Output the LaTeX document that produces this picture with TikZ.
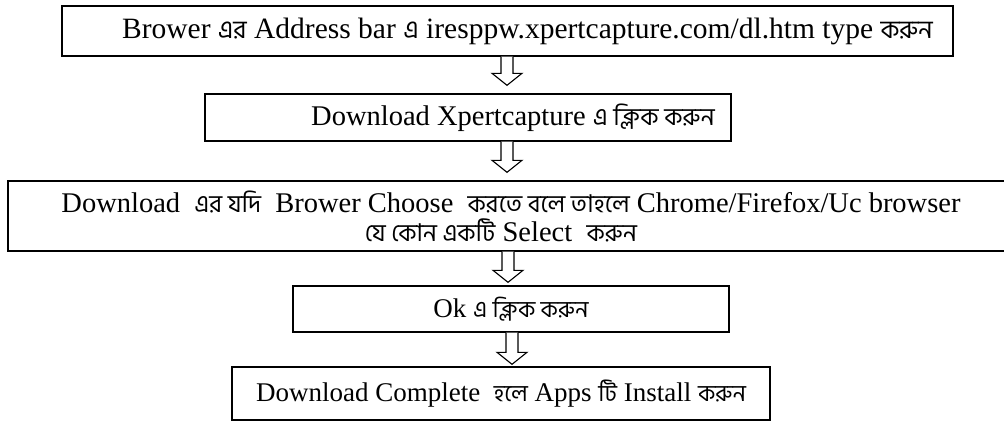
\documentclass[tikz,border=0pt]{standalone}
\usepackage{fontspec}
\setmainfont{Liberation Serif}
\newfontfamily\bnfont[Script=Bengali,Scale=0.86]{Hind Siliguri}
\newcommand{\bng}[1]{{\bnfont #1}}
\usetikzlibrary{calc}
\tikzset{
  stepbox/.style={draw=black, line width=1.4pt, rectangle, inner sep=0pt, align=center,
    font=\fontsize{27}{26}\selectfont},
  bigtext/.style={font=\fontsize{29.5}{27}\selectfont},
  midtext/.style={font=\fontsize{28.5}{29}\selectfont},
  blockarr/.style={draw=black, line width=1.1pt, line join=miter, fill=white},
}
% #1 from node, #2 to node, #3 x position, #4 gap above target
\newcommand{\flowarrow}[4]{%
  \coordinate (ax) at (#3,0);
  \draw[blockarr] let \p1=(#1.south -| ax), \p2=(#2.north -| ax) in
    (\x1-6pt,\y1) -- (\x1-6pt,\y2+#4+12pt) -- (\x1-15pt,\y2+#4+12pt) -- (\x1,\y2+#4)
    -- (\x1+15pt,\y2+#4+12pt) -- (\x1+6pt,\y2+#4+12pt) -- (\x1+6pt,\y1);
}
\begin{document}
\begin{tikzpicture}[x=1pt,y=-1pt]
\useasboundingbox (0,0) rectangle (1004,423);
\node[stepbox, bigtext, minimum width=891pt, minimum height=50pt] (b1) at (507.5,31)
  {\hspace*{40pt}Brower \bng{এর} Address bar \bng{এ} iresppw.xpertcapture.com/dl.htm type \bng{করুন}};
\node[stepbox, midtext, minimum width=526pt, minimum height=47pt] (b2) at (468,117.5)
  {\hspace*{90pt}Download Xpertcapture \bng{এ ক্লিক করুন}};
\node[stepbox, midtext, minimum width=1006pt, minimum height=70pt] (b3) at (511,216)
  {Download \ \bng{এর যদি} \ Brower Choose \ \bng{করতে বলে তাহলে} Chrome/Firefox/Uc browser\\
   \bng{যে কোন একটি} Select \ \bng{করুন}\hspace*{20pt}};
\node[stepbox, minimum width=436pt, minimum height=46pt] (b4) at (511,309)
  {Ok \bng{এ ক্লিক করুন}};
\node[stepbox, minimum width=538pt, minimum height=53pt] (b5) at (501,393.5)
  {Download Complete \ \bng{হলে} Apps \bng{টি} Install \bng{করুন}};
\flowarrow{b1}{b2}{507}{8pt}
\flowarrow{b2}{b3}{507}{8pt}
\flowarrow{b3}{b4}{508}{3pt}
\flowarrow{b4}{b5}{512}{2pt}
\end{tikzpicture}
\end{document}
